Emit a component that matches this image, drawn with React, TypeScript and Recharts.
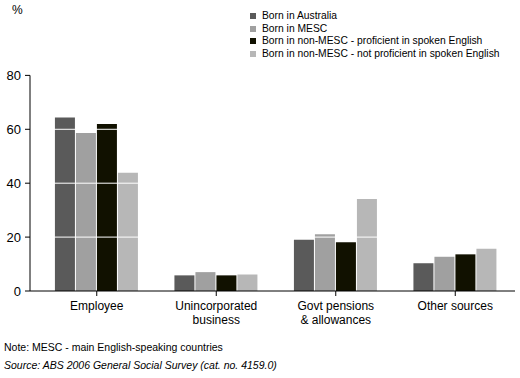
import { BarChart, Bar, XAxis, YAxis, ReferenceLine, Legend } from "recharts";

const categories = ["Employee", "Unincorporated\nbusiness", "Govt pensions\n& allowances", "Other sources"];
const bornAustralia = [64.4, 5.8, 19.0, 10.3];
const bornMesc = [58.6, 7.0, 21.1, 12.7];
const nonMescProficient = [62.0, 5.8, 18.1, 13.6];
const nonMescNotProficient = [43.9, 6.1, 34.1, 15.7];
const yTicks = [0, 20, 40, 60, 80];

const series = [
  { key: "aus", name: "Born in Australia", color: "#5a5a5a" },
  { key: "mesc", name: "Born in MESC", color: "#a0a0a0" },
  { key: "prof", name: "Born in non-MESC - proficient in spoken English", color: "#111100" },
  { key: "notProf", name: "Born in non-MESC - not proficient in spoken English", color: "#b7b7b7" },
];

const data = categories.map((c, i) => ({
  category: c,
  aus: bornAustralia[i],
  mesc: bornMesc[i],
  prof: nonMescProficient[i],
  notProf: nonMescNotProficient[i],
}));

const font = "'Liberation Sans', Arial, sans-serif";

function CategoryTick(props: any) {
  const { x, y, payload } = props;
  const lines = String(payload.value).split("\n");
  return (
    <text x={x} y={y} textAnchor="middle" fill="#000" fontSize={12} fontFamily={font}>
      {lines.map((l, i) => (
        <tspan key={i} x={x} dy={i === 0 ? 12 : 14}>
          {l}
        </tspan>
      ))}
    </text>
  );
}

function LegendBox() {
  return (
    <div style={{ fontFamily: font, fontSize: 10.3, lineHeight: "12.6px", color: "#000" }}>
      {series.map((s) => (
        <div key={s.key} style={{ display: "flex", alignItems: "center", whiteSpace: "nowrap" }}>
          <span style={{ width: 6, height: 6, background: s.color, display: "inline-block", marginRight: 6 }} />
          {s.name}
        </div>
      ))}
    </div>
  );
}

export default function App() {
  return (
    <div style={{ position: "absolute", left: 0, top: 0, width: 520, height: 378, background: "#fff", fontFamily: font }}>
      <div style={{ position: "absolute", left: 12, top: 3, fontSize: 12 }}>%</div>
      <BarChart
        width={520}
        height={340}
        data={data}
        margin={{ top: 25, right: 5, left: 0, bottom: 19 }}
        barCategoryGap="15%"
        barGap={1}
      >
        <XAxis
          dataKey="category"
          tick={<CategoryTick />}
          tickLine={{ stroke: "#000" }}
          axisLine={{ stroke: "#000" }}
          tickSize={5}
          height={30}
          interval={0}
          padding={{ left: 7, right: 0 }}
        />
        <YAxis
          width={30}
          domain={[0, 80]}
          ticks={yTicks}
          interval={0}
          tickSize={5}
          tickMargin={4}
          axisLine={{ stroke: "#000" }}
          tickLine={{ stroke: "#000" }}
          tick={{ fill: "#000", fontSize: 13, fontFamily: font }}
        />
        <Legend
          verticalAlign="top"
          align="left"
          content={<LegendBox />}
          wrapperStyle={{ position: "absolute", left: 250, top: 10, width: 265 }}
        />
        {series.map((s) => (
          <Bar key={s.key} dataKey={s.key} name={s.name} fill={s.color} isAnimationActive={false} />
        ))}
        {yTicks.slice(1, 4).map((t) => (
          <ReferenceLine key={t} y={t} stroke="#fff" strokeWidth={1} />
        ))}
      </BarChart>
      <div style={{ position: "absolute", left: 4, top: 341, fontSize: 10.5 }}>
        Note: MESC - main English-speaking countries
      </div>
      <div style={{ position: "absolute", left: 4, top: 359, fontSize: 10.5, fontStyle: "italic" }}>
        Source: ABS 2006 General Social Survey (cat. no. 4159.0)
      </div>
    </div>
  );
}
